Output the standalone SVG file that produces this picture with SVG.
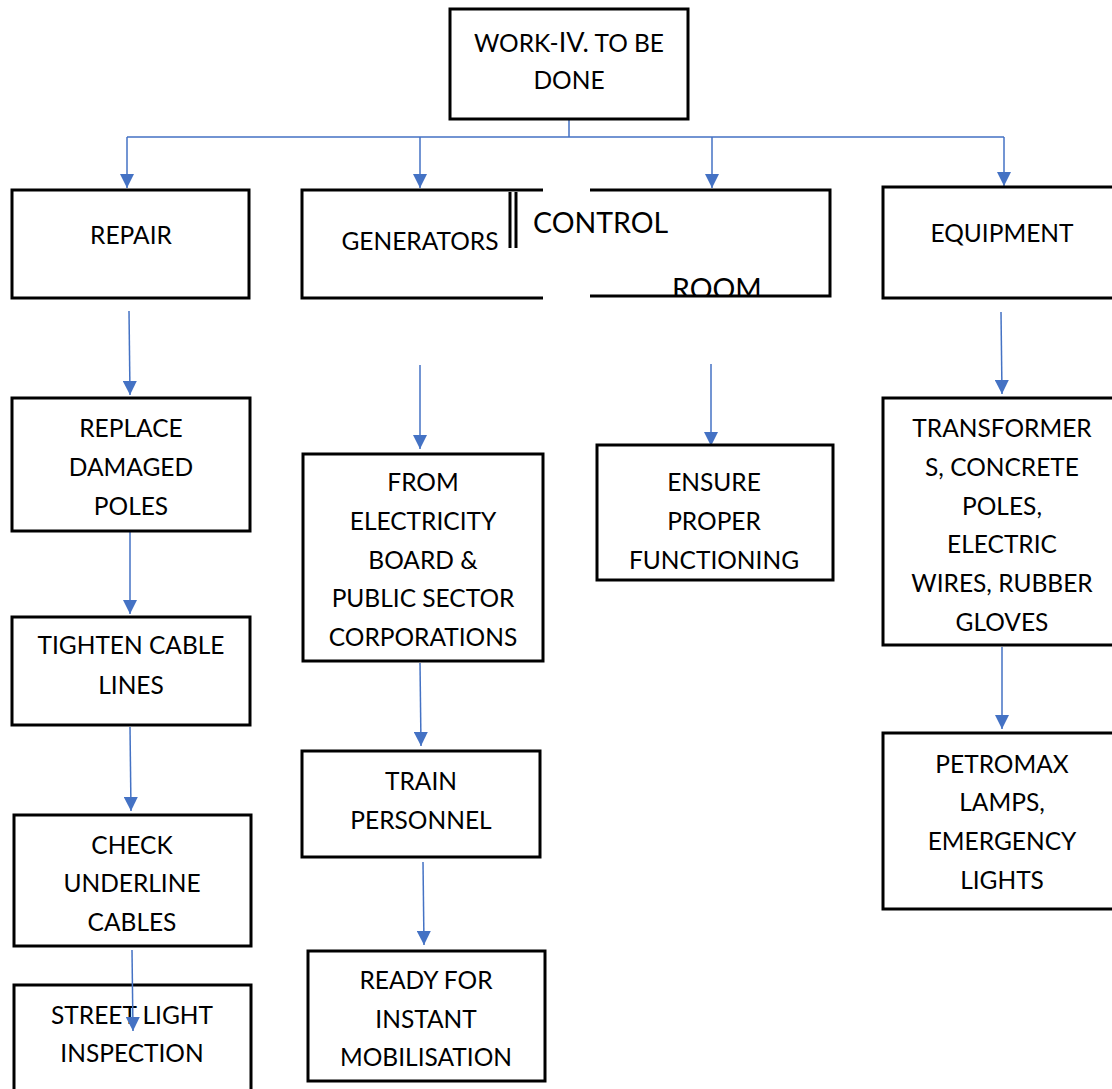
<svg xmlns="http://www.w3.org/2000/svg" width="1112" height="1089" viewBox="0 0 1112 1089">
<style>
.box{fill:none;stroke:#000;stroke-width:3}
.t{font-family:Lato,"Open Sans","Liberation Sans",sans-serif;font-size:24.5px;fill:#000;text-anchor:middle}
.big{font-family:Lato,"Open Sans","Liberation Sans",sans-serif;font-size:28.5px;fill:#000;text-anchor:start}
.c{fill:none;stroke:#4472C4;stroke-width:1.5}
</style>
<defs>
<marker id="ah" markerUnits="userSpaceOnUse" markerWidth="14" markerHeight="14" refX="14" refY="7" orient="auto">
<path d="M0,0 L14,7 L0,14 z" fill="#4472C4"/>
</marker>
<clipPath id="roomclip"><rect x="590" y="250" width="240" height="46"/></clipPath>
</defs>
<rect width="1112" height="1089" fill="#fff"/>
<g id="connectors">
<path class="c" d="M569,120 V137 M127,137 H1004" stroke="#8EA9DB"/>
<line class="c" x1="127" y1="137" x2="127" y2="188" marker-end="url(#ah)"/>
<line class="c" x1="420" y1="137" x2="420" y2="188" marker-end="url(#ah)"/>
<line class="c" x1="712" y1="137" x2="712" y2="188" marker-end="url(#ah)"/>
<line class="c" x1="1004" y1="137" x2="1004" y2="186" marker-end="url(#ah)"/>
<line class="c" x1="129" y1="311" x2="130" y2="395" marker-end="url(#ah)"/>
<line class="c" x1="130" y1="532" x2="130" y2="614" marker-end="url(#ah)"/>
<line class="c" x1="130" y1="727" x2="131" y2="811" marker-end="url(#ah)"/>
<line class="c" x1="420" y1="365" x2="420" y2="449" marker-end="url(#ah)"/>
<line class="c" x1="420" y1="663" x2="421" y2="746" marker-end="url(#ah)"/>
<line class="c" x1="423" y1="862" x2="424" y2="945" marker-end="url(#ah)"/>
<line class="c" x1="711" y1="364" x2="711" y2="446" marker-end="url(#ah)"/>
<line class="c" x1="1001" y1="312" x2="1002" y2="394" marker-end="url(#ah)"/>
<line class="c" x1="1002" y1="647" x2="1002" y2="729" marker-end="url(#ah)"/>
</g>
<g id="n-top">
<rect class="box" x="450" y="9" width="238" height="110"/>
<text class="t" x="569" y="52">WORK-<tspan style="font-size:27px">IV.</tspan> TO BE</text>
<text class="t" x="569" y="89">DONE</text>
</g>
<g id="n-repair">
<rect class="box" x="12" y="190" width="237" height="108"/>
<text class="t" x="131" y="244">REPAIR</text>
</g>
<g id="n-generators">
<path class="box" d="M543,190 H302 V298 H543"/>
<line x1="510" y1="192" x2="510" y2="248" stroke="#000" stroke-width="3"/>
<line x1="516" y1="192" x2="516" y2="248" stroke="#000" stroke-width="3"/>
<text class="t" x="420" y="250">GENERATORS</text>
</g>
<g id="n-control">
<path class="box" d="M590,190 H830 V296 H590"/>
<text class="big" x="533" y="233">CONTROL</text>
<text class="big" x="672" y="299" clip-path="url(#roomclip)">ROOM</text>
</g>
<g id="n-equipment">
<path class="box" d="M1112,187 H883 V298 H1112"/>
<text class="t" x="1002" y="242">EQUIPMENT</text>
</g>
<g id="n-replace">
<rect class="box" x="12" y="398" width="238" height="133"/>
<text class="t" x="131" y="437">REPLACE</text>
<text class="t" x="131" y="476">DAMAGED</text>
<text class="t" x="131" y="515">POLES</text>
</g>
<g id="n-tighten">
<rect class="box" x="12" y="617" width="238" height="108"/>
<text class="t" x="131" y="654">TIGHTEN CABLE</text>
<text class="t" x="131" y="694">LINES</text>
</g>
<g id="n-check">
<rect class="box" x="14" y="815" width="237" height="131"/>
<text class="t" x="132" y="854">CHECK</text>
<text class="t" x="132" y="892">UNDERLINE</text>
<text class="t" x="132" y="931">CABLES</text>
</g>
<g id="n-street">
<path class="box" d="M14,1089 V985 H251 V1089"/>
<text class="t" x="132" y="1024">STREET LIGHT</text>
<text class="t" x="132" y="1062">INSPECTION</text>
</g>
<line class="c" x1="132" y1="950" x2="133" y2="1031" marker-end="url(#ah)"/>
<g id="n-from">
<rect class="box" x="303" y="454" width="240" height="207"/>
<text class="t" x="423" y="491">FROM</text>
<text class="t" x="423" y="530">ELECTRICITY</text>
<text class="t" x="423" y="569">BOARD &amp;</text>
<text class="t" x="423" y="607">PUBLIC SECTOR</text>
<text class="t" x="423" y="646">CORPORATIONS</text>
</g>
<g id="n-train">
<rect class="box" x="302" y="751" width="238" height="106"/>
<text class="t" x="421" y="790">TRAIN</text>
<text class="t" x="421" y="829">PERSONNEL</text>
</g>
<g id="n-ready">
<rect class="box" x="308" y="951" width="237" height="130"/>
<text class="t" x="426" y="989">READY FOR</text>
<text class="t" x="426" y="1028">INSTANT</text>
<text class="t" x="426" y="1066">MOBILISATION</text>
</g>
<g id="n-ensure">
<rect class="box" x="597" y="445" width="236" height="135"/>
<text class="t" x="714" y="491">ENSURE</text>
<text class="t" x="714" y="530">PROPER</text>
<text class="t" x="714" y="569">FUNCTIONING</text>
</g>
<g id="n-transformers">
<path class="box" d="M1112,398 H883 V645 H1112"/>
<text class="t" x="1002" y="437">TRANSFORMER</text>
<text class="t" x="1002" y="476">S, CONCRETE</text>
<text class="t" x="1002" y="515">POLES,</text>
<text class="t" x="1002" y="553">ELECTRIC</text>
<text class="t" x="1002" y="592">WIRES, RUBBER</text>
<text class="t" x="1002" y="631">GLOVES</text>
</g>
<g id="n-petromax">
<path class="box" d="M1112,733 H883 V909 H1112"/>
<text class="t" x="1002" y="773">PETROMAX</text>
<text class="t" x="1002" y="811">LAMPS,</text>
<text class="t" x="1002" y="850">EMERGENCY</text>
<text class="t" x="1002" y="889">LIGHTS</text>
</g>
</svg>
